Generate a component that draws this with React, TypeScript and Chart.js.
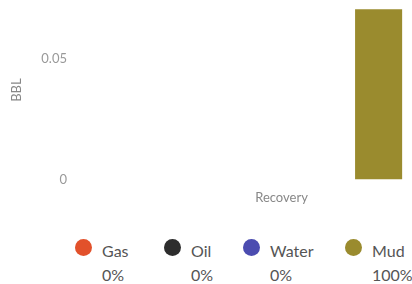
import React, { useEffect, useRef } from "react";
import { Chart, registerables } from "chart.js";

Chart.register(...registerables);

const categories = ["Recovery"];
const seriesLabels = ["Gas", "Oil", "Water", "Mud"];
const gasValues = [0];
const oilValues = [0];
const waterValues = [0];
const mudValues = [0.0705];
const yTickValues = [0, 0.05];
const yMin = 0;
const yMax = 0.074;
const yTitle = "BBL";

const seriesColors = ["#e2512b", "#2d2d2d", "#4b4cb0", "#9a8b2e"];
const legendLeft = [75, 164, 243, 345];

export default function App() {
  const canvasRef = useRef<HTMLCanvasElement | null>(null);
  const allSeries = [gasValues, oilValues, waterValues, mudValues];
  const totals = allSeries.map((s) => s.reduce((a, b) => a + b, 0));
  const grand = totals.reduce((a, b) => a + b, 0);
  const pct = totals.map((t) => (grand > 0 ? Math.round((t / grand) * 100) : 0));

  useEffect(() => {
    const canvas = canvasRef.current;
    if (!canvas) return;
    const font = { family: "Lato", size: 13 };
    const chart = new Chart(canvas, {
      type: "bar",
      data: {
        labels: categories,
        datasets: allSeries.map((values, i) => ({
          label: seriesLabels[i],
          data: values,
          backgroundColor: seriesColors[i],
          borderWidth: 0,
          categoryPercentage: 0.627,
          barPercentage: 0.727,
        })),
      },
      options: {
        animation: false,
        responsive: false,
        maintainAspectRatio: false,
        layout: { padding: { left: 5, right: 2, top: 0, bottom: 7 } },
        plugins: { legend: { display: false }, tooltip: { enabled: false } },
        scales: {
          x: {
            grid: { display: false, drawTicks: false },
            border: { display: false },
            ticks: { color: "#888", font, padding: 11 },
          },
          y: {
            min: yMin,
            max: yMax,
            grid: { display: false, drawTicks: false },
            border: { display: false },
            afterBuildTicks: (scale: any) => {
              scale.ticks = yTickValues.map((v) => ({ value: v }));
            },
            afterFit: (scale: any) => {
              scale.width = 70;
            },
            ticks: {
              color: "#999",
              font,
              padding: 8,
              callback: (v: any) => String(v),
            },
            title: { display: true, text: yTitle, color: "#888", font },
          },
        },
      },
    });
    return () => chart.destroy();
  }, []);

  return (
    <div
      style={{
        position: "fixed",
        left: 0,
        top: 0,
        width: 412,
        height: 284,
        overflow: "hidden",
        background: "#fff",
        fontFamily: "Lato",
      }}
    >
      <canvas
        ref={canvasRef}
        width={490}
        height={239}
        style={{ position: "absolute", left: 0, top: -15.5, width: 490, height: 239 }}
      />
      {seriesLabels.map((label, i) => (
        <div
          key={label}
          style={{ position: "absolute", left: legendLeft[i], top: 239, whiteSpace: "nowrap" }}
        >
          <div
            style={{
              position: "absolute",
              left: 0,
              top: 0,
              width: 17,
              height: 17,
              borderRadius: "50%",
              background: seriesColors[i],
            }}
          />
          <div
            style={{
              position: "absolute",
              left: 27,
              top: 2,
              fontSize: 16,
              lineHeight: "19.2px",
              color: "#555",
            }}
          >
            {label}
          </div>
          <div
            style={{
              position: "absolute",
              left: 27,
              top: 26,
              fontSize: 16,
              lineHeight: "19.2px",
              color: "#555",
            }}
          >
            {pct[i] + "%"}
          </div>
        </div>
      ))}
    </div>
  );
}
